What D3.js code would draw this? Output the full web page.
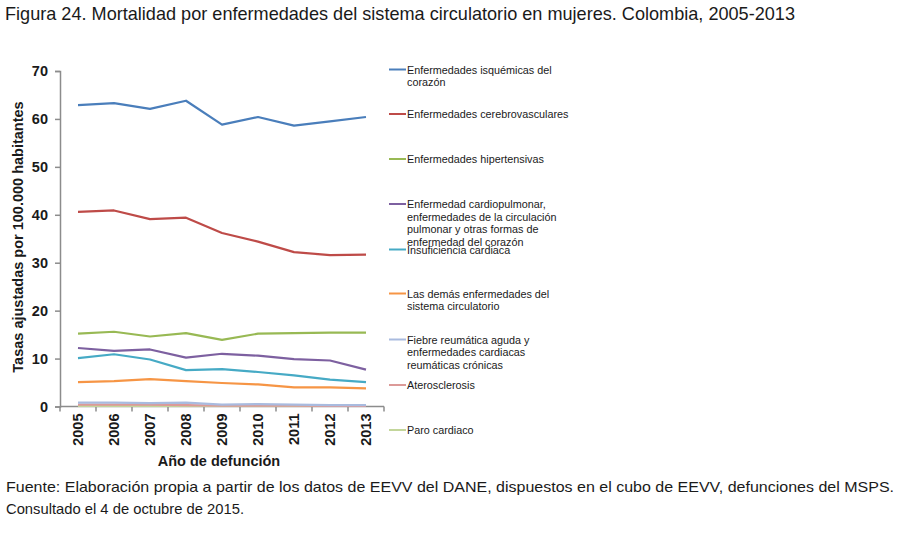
<!DOCTYPE html>
<html>
<head>
<meta charset="utf-8">
<script src="https://cdn.jsdelivr.net/npm/d3@7"></script>
<style>
  body { margin: 0; background: #fff; }
  text { font-family: "Liberation Sans", Arial, sans-serif; fill: #1a1a1a; }
  .narrow { font-family: "Liberation Sans Narrow", "Liberation Sans", Arial, sans-serif; }
</style>
</head>
<body>
<div id="chart"></div>
<script>
// years on the category axis
const years = ['2005', '2006', '2007', '2008', '2009', '2010', '2011', '2012', '2013'];
const yTicks = [0, 10, 20, 30, 40, 50, 60, 70];

// series values (rate per 100.000)
const isquemicas = [62.9, 63.3, 62.1, 63.8, 58.8, 60.4, 58.6, 59.5, 60.4];
const cerebrovasculares = [40.6, 40.9, 39.1, 39.4, 36.2, 34.4, 32.2, 31.6, 31.7];
const hipertensivas = [15.2, 15.6, 14.6, 15.3, 13.9, 15.2, 15.3, 15.4, 15.4];
const cardiopulmonar = [12.2, 11.6, 11.9, 10.2, 11.0, 10.6, 9.9, 9.6, 7.7];
const insuficiencia = [10.1, 10.9, 9.8, 7.6, 7.8, 7.2, 6.5, 5.6, 5.1];
const lasDemas = [5.1, 5.3, 5.7, 5.3, 4.9, 4.6, 4.0, 4.0, 3.8];
const fiebreReumatica = [0.8, 0.8, 0.7, 0.8, 0.4, 0.5, 0.4, 0.3, 0.3];
const aterosclerosis = [0.4, 0.4, 0.4, 0.3, 0.2, 0.2, 0.2, 0.1, 0.1];
const paroCardiaco = [0.1, 0.1, 0.1, 0.1, 0.1, 0.1, 0.1, 0.1, 0.1];

const seriesNames = [
  ['Enfermedades isquémicas del', 'corazón'],
  ['Enfermedades cerebrovasculares'],
  ['Enfermedades hipertensivas'],
  ['Enfermedad cardiopulmonar,', 'enfermedades de la circulación', 'pulmonar y otras formas de', 'enfermedad del corazón'],
  ['Insuficiencia cardiaca'],
  ['Las demás enfermedades del', 'sistema circulatorio'],
  ['Fiebre reumática aguda y', 'enfermedades cardiacas', 'reumáticas crónicas'],
  ['Aterosclerosis'],
  ['Paro cardiaco']
];
const seriesValues = [isquemicas, cerebrovasculares, hipertensivas, cardiopulmonar,
  insuficiencia, lasDemas, fiebreReumatica, aterosclerosis, paroCardiaco];
const colors = ['#4a7ebb', '#be4b48', '#98b954', '#7d60a0', '#46aac5',
  '#f69545', '#a9bbdf', '#dc9a98', '#c3d69b'];

const svgW = 920, svgH = 536;
const plot = { left: 60, right: 384, top: 71, bottom: 406.5 };

const svg = d3.select('#chart').append('svg')
  .attr('width', svgW)
  .attr('height', svgH);

// title
svg.append('text')
  .attr('class', 'narrow')
  .attr('x', 5).attr('y', 19.5)
  .attr('textLength', 790).attr('lengthAdjust', 'spacingAndGlyphs')
  .style('font-size', '18.5px')
  .text('Figura 24. Mortalidad por enfermedades del sistema circulatorio en mujeres. Colombia, 2005-2013');

// scales
const x = d3.scaleBand().domain(years).range([plot.left, plot.right]);
const y = d3.scaleLinear().domain([0, 70]).range([plot.bottom, plot.top]);

// y axis
const yAxis = svg.append('g')
  .attr('transform', `translate(${plot.left},0)`)
  .call(d3.axisLeft(y).tickValues(yTicks).tickSize(5).tickPadding(7));
yAxis.selectAll('path, line').attr('stroke', '#8c8c8c').attr('stroke-width', 1.5);
yAxis.selectAll('text')
  .style('font-size', '14.5px').style('font-weight', 'bold')
  .style('font-family', '"Liberation Sans", Arial, sans-serif')
  .attr('fill', '#1a1a1a');

// x axis: ticks sit between categories
const xAxis = svg.append('g')
  .attr('transform', `translate(0,${plot.bottom})`);
xAxis.append('line')
  .attr('x1', plot.left).attr('x2', plot.right)
  .attr('stroke', '#8c8c8c').attr('stroke-width', 1.5);
xAxis.selectAll('.tk')
  .data(years.concat(['end']))
  .join('line')
  .attr('class', 'tk')
  .attr('x1', d => d === 'end' ? plot.right : x(d))
  .attr('x2', d => d === 'end' ? plot.right : x(d))
  .attr('y1', 0).attr('y2', 5)
  .attr('stroke', '#8c8c8c').attr('stroke-width', 1.5);
xAxis.selectAll('.lbl')
  .data(years)
  .join('text')
  .attr('class', 'lbl')
  .attr('transform', d => `translate(${x(d) + x.bandwidth() / 2 + 5},7) rotate(-90)`)
  .attr('text-anchor', 'end')
  .style('font-size', '14.5px').style('font-weight', 'bold')
  .text(d => d);

// axis titles
svg.append('text')
  .attr('x', 219).attr('y', 465.5)
  .attr('text-anchor', 'middle')
  .style('font-size', '14.5px').style('font-weight', 'bold')
  .text('Año de defunción');
svg.append('text')
  .attr('transform', 'translate(23,237) rotate(-90)')
  .attr('text-anchor', 'middle')
  .style('font-size', '14.5px').style('font-weight', 'bold')
  .text('Tasas ajustadas por 100.000 habitantes');

// lines
const line = d3.line()
  .x((d, i) => x(years[i]) + x.bandwidth() / 2)
  .y(d => y(d));
const order = [8, 7, 6, 5, 4, 3, 2, 1, 0];
svg.append('g')
  .selectAll('path')
  .data(order)
  .join('path')
  .attr('d', i => line(seriesValues[i]))
  .attr('fill', 'none')
  .attr('stroke', i => colors[i])
  .attr('stroke-width', 2.2)
  .attr('stroke-linejoin', 'round');

// legend
const legendY = [69.5, 114, 159, 204, 249.5, 293.5, 339.5, 385, 430];
const legend = svg.append('g');
seriesNames.forEach((lines, i) => {
  const row = legend.append('g').attr('transform', `translate(389,${legendY[i]})`);
  row.append('line')
    .attr('x1', 0).attr('x2', 17)
    .attr('stroke', colors[i]).attr('stroke-width', 2);
  lines.forEach((t, j) => {
    row.append('text')
      .attr('x', 18).attr('y', 4 + j * 12.7)
      .style('font-size', '10.8px')
      .text(t);
  });
});

// source note
svg.append('text')
  .attr('class', 'narrow')
  .attr('x', 6).attr('y', 491.5)
  .attr('textLength', 888).attr('lengthAdjust', 'spacingAndGlyphs')
  .style('font-size', '15px')
  .text('Fuente: Elaboración propia a partir de los datos de EEVV del DANE, dispuestos en el cubo de EEVV, defunciones del MSPS.');
svg.append('text')
  .attr('class', 'narrow')
  .attr('x', 6).attr('y', 513.5)
  .attr('textLength', 238).attr('lengthAdjust', 'spacingAndGlyphs')
  .style('font-size', '15px')
  .text('Consultado el 4 de octubre de 2015.');
</script>
</body>
</html>
